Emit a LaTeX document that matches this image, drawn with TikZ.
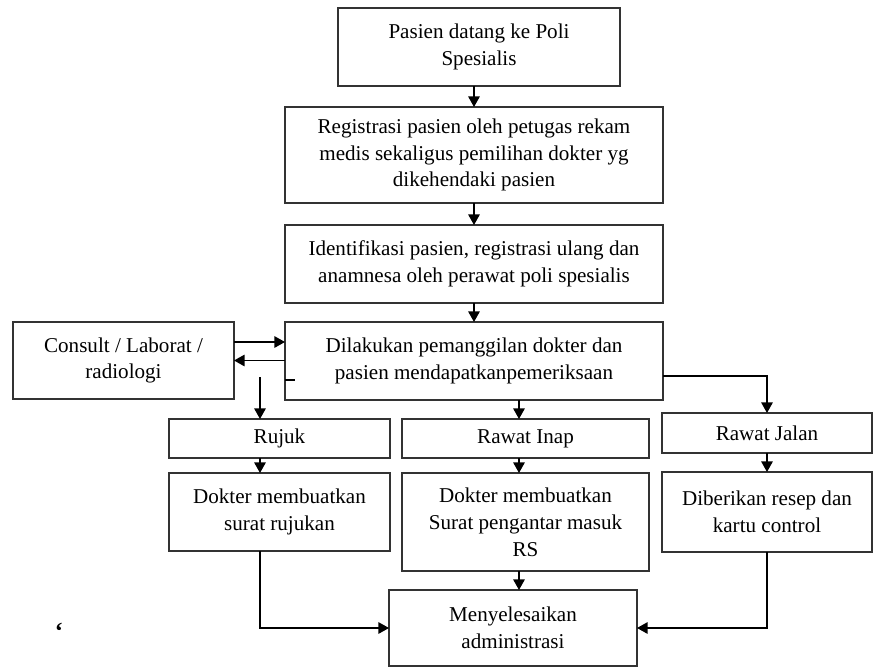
\documentclass[tikz,border=0pt]{standalone}
\usepackage{fontspec}
\setmainfont{Liberation Serif}
\usepackage{tikz}
\usetikzlibrary{arrows.meta,positioning,calc}

\tikzset{
    kotak/.style={draw=black!80, line width=0.8pt, align=center, inner sep=0pt, outer sep=0pt,
        font=\fontsize{12}{15.3}\selectfont},
    panah/.style={draw=black, line width=0.8pt, -{Triangle[length=6pt,width=6.5pt]}},
    garis/.style={draw=black, line width=0.8pt}
}

\begin{document}
\begin{tikzpicture}
    \useasboundingbox (0,0) rectangle (17.48,-13.36);

    % Alur utama
    \node[kotak, minimum width=5.64cm, minimum height=1.56cm] (pasien) at (9.58,-0.94) {Pasien datang ke Poli\\Spesialis};
    \node[kotak, minimum width=7.56cm, minimum height=1.92cm] (registrasi) at (9.48,-3.10) {Registrasi pasien oleh petugas rekam\\medis sekaligus pemilihan dokter yg\\dikehendaki pasien};
    \node[kotak, minimum width=7.56cm, minimum height=1.56cm] (identifikasi) at (9.48,-5.28) {Identifikasi pasien, registrasi ulang dan\\anamnesa oleh perawat poli spesialis};
    \node[kotak, minimum width=7.56cm, minimum height=1.56cm] (pemanggilan) at (9.48,-7.22) {Dilakukan pemanggilan dokter dan\\pasien mendapatkanpemeriksaan};

    % Penunjang
    \node[kotak, minimum width=4.42cm, minimum height=1.54cm] (consult) at (2.47,-7.21) {Consult / Laborat /\\radiologi};

    % Cabang
    \node[kotak, minimum width=4.42cm, minimum height=0.78cm] (rujuk) at (5.59,-8.77) {Rujuk};
    \node[kotak, minimum width=4.94cm, minimum height=0.78cm] (inap) at (10.51,-8.77) {Rawat Inap};
    \node[kotak, minimum width=4.20cm, minimum height=0.80cm] (jalan) at (15.34,-8.66) {Rawat Jalan};

    \node[kotak, minimum width=4.42cm, minimum height=1.56cm] (suratrujuk) at (5.59,-10.24) {Dokter membuatkan\\surat rujukan};
    \node[kotak, minimum width=4.94cm, minimum height=1.96cm] (suratrs) at (10.51,-10.44) {Dokter membuatkan\\Surat pengantar masuk\\RS};
    \node[kotak, minimum width=4.20cm, minimum height=1.60cm] (resep) at (15.34,-10.24) {Diberikan resep dan\\kartu control};

    \node[kotak, minimum width=4.96cm, minimum height=1.52cm] (admin) at (10.26,-12.56) {Menyelesaikan\\administrasi};

    \node[font=\fontsize{14}{14}\selectfont\bfseries] (tanda) at (1.18,-12.62) {‘};

    % Titik bantu
    \coordinate (kiri) at (5.2,-7.54);
    \coordinate (tengah) at (10.38,-8.00);

    % Panah
    \draw[panah] (registrasi.north |- pasien.south) -- (registrasi.north);
    \draw[panah] (registrasi) -- (identifikasi);
    \draw[panah] (identifikasi) -- (pemanggilan);

    \draw[panah] ([yshift=0.37cm]consult.east) -- ([yshift=0.37cm]consult.east -| pemanggilan.west);
    \draw[panah] (pemanggilan.west |- consult.east) -- (consult.east);
    \draw[garis] ([yshift=-0.38cm]pemanggilan.west) -- ++(0.2,0);

    \draw[panah] (kiri) -- (kiri |- rujuk.north);
    \draw[panah] (pemanggilan.south -| tengah) -- (inap.north -| tengah);
    \draw[panah] ([yshift=-0.30cm]pemanggilan.east) -| (jalan.north);

    \draw[panah] (kiri |- rujuk.south) -- (kiri |- suratrujuk.north);
    \draw[panah] (inap.south -| tengah) -- (suratrs.north -| tengah);
    \draw[panah] (jalan) -- (resep);

    \draw[panah] (kiri |- suratrujuk.south) |- (admin.west);
    \draw[panah] (suratrs.south -| tengah) -- (admin.north -| tengah);
    \draw[panah] (resep.south) |- (admin.east);
\end{tikzpicture}
\end{document}
